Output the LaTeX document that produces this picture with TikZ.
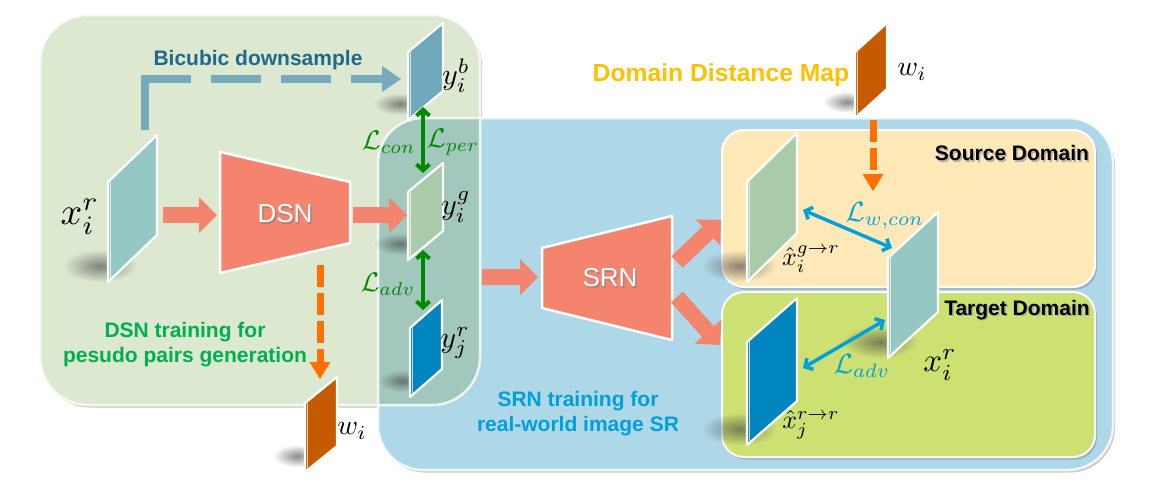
\documentclass[tikz,border=0pt]{standalone}
\usepackage{fontspec}
\setsansfont{Liberation Sans}
\usetikzlibrary{arrows.meta,shadows,fadings,calc}

\definecolor{dsnbg}{HTML}{DCE8CF}
\definecolor{srnbg}{HTML}{AED8E8}
\definecolor{overlapbg}{HTML}{A2C8BE}
\definecolor{srcbg}{HTML}{FFE9B8}
\definecolor{tgtbg}{HTML}{CDE072}
\definecolor{blocksalmon}{HTML}{F5846E}
\definecolor{tealmap}{HTML}{96C8C3}
\definecolor{bluemap}{HTML}{6FA8BB}
\definecolor{greenmap}{HTML}{AACBAA}
\definecolor{deepblue}{HTML}{0085BE}
\definecolor{rust}{HTML}{C55A00}
\definecolor{bicubicline}{HTML}{78AABE}
\definecolor{bicubictext}{HTML}{1F6A8A}
\definecolor{lossgreen}{HTML}{008A00}
\definecolor{lossblue}{HTML}{00A0DC}
\definecolor{dashorange}{HTML}{FF7000}
\definecolor{mapyellow}{HTML}{FFC000}
\definecolor{dsngreen}{HTML}{00B050}

% soft spot used for the shadows under the feature maps
\tikzfading[name=softspot, inner color=transparent!0, outer color=transparent!100]

\tikzset{
  panelborder/.style={draw=white, line width=2.5pt},
  panelshadow/.style={drop shadow={shadow xshift=2pt, shadow yshift=-2.5pt, opacity=0.35, fill=black!60}},
  mapedge/.style={draw=white, line width=2.2pt, line join=round},
  netbox/.style={fill=blocksalmon, draw=white, line width=2.5pt, line join=round},
  blockarr/.style={line width=16pt, draw=blocksalmon, -{Triangle[length=18pt,width=36pt,line width=0pt]}},
  dasharr/.style={draw=dashorange, line width=7pt, dash pattern=on 22pt off 6pt, -{Triangle[length=17pt,width=21pt,line width=0pt]}},
  greenloss/.style={draw=lossgreen, line width=4pt, {Straight Barb[length=6pt,width=13pt]}-{Straight Barb[length=6pt,width=13pt]}},
  blueloss/.style={draw=lossblue, line width=3.5pt, {Straight Barb[length=6pt,width=13pt]}-{Straight Barb[length=6pt,width=13pt]}},
  boldlabel/.style={font=\sffamily\bfseries\fontsize{21}{25}\selectfont, align=center, inner sep=0pt},
  mathlabel/.style={inner sep=0pt},
}

% feature map: name, left x, top-left y, width, shear, height, colour
\newcommand\featmap[7]{%
  \fill[black!75, opacity=0.6, path fading=softspot]
    ({#2-8},{#3+#6-16}) ellipse ({0.75*#4} and {0.16*#6});
  \draw[mapedge, fill=#7] (#2,#3) -- ++(#4,-#5) -- ++(0,#6) -- ++(-#4,#5) -- cycle;
  \draw[#7!30!white, line width=1.2pt] ({#2+2.8},{#3-2}) -- ++(0,{#6-1});
  \coordinate (#1) at ({#2+#4/2},{#3+(#6-#5)/2});
}

\begin{document}
\begin{tikzpicture}[x=1pt,y=-1pt]
\useasboundingbox[fill=white] (0,0) rectangle (1149,491);

% ---- training panels ----
\fill[dsnbg, panelshadow, rounded corners=48] (40,15) rectangle (480,405);
\fill[srnbg, panelshadow, rounded corners=45] (378,118) rectangle (1113,470);
\begin{scope}
  \clip[rounded corners=45] (378,118) rectangle (1113,470);
  \fill[overlapbg, rounded corners=48] (40,15) rectangle (480,405);
\end{scope}
\draw[panelborder, rounded corners=45, opacity=0.8] (378,118) rectangle (1113,470);
\draw[panelborder, rounded corners=48, opacity=0.8] (40,15) rectangle (480,405);

% ---- domain boxes ----
\fill[srcbg, panelshadow, rounded corners=22] (722,130) rectangle (1095,287);
\draw[panelborder, line width=2pt, rounded corners=22] (722,130) rectangle (1095,287);
\fill[tgtbg, panelshadow, rounded corners=22] (722,292) rectangle (1095,457);
\draw[panelborder, line width=2pt, rounded corners=22] (722,292) rectangle (1095,457);

% ---- networks ----
\draw[netbox] (220,152) -- (350,182) -- (350,243) -- (220,273) -- cycle;
\node[text=black!50, opacity=0.6, font=\sffamily\fontsize{26}{26}\selectfont] at (286.5,215.5) {DSN};
\node[text=white, font=\sffamily\fontsize{26}{26}\selectfont] (dsn) at (285,214) {DSN};
\draw[netbox] (542,248) -- (672,216) -- (672,340) -- (542,308) -- cycle;
\node[text=black!50, opacity=0.6, font=\sffamily\fontsize{26}{26}\selectfont] at (611.5,279.5) {SRN};
\node[text=white, font=\sffamily\fontsize{26}{26}\selectfont] (srn) at (610,278) {SRN};

% ---- feature maps ----
\featmap{xr}{108}{182}{49}{47}{100}{tealmap}
\featmap{yib}{408}{52}{35}{29}{68}{bluemap}
\featmap{yig}{408}{192}{35}{29}{68}{greenmap}
\featmap{yjr}{410}{328}{32}{28}{69}{deepblue}
\featmap{wlow}{305}{403}{32}{26}{69}{rust}
\featmap{wtop}{855}{52}{32}{29}{66}{rust}
\featmap{xgr}{747}{182}{50}{49}{100}{greenmap}
\featmap{xrr}{747}{342}{50}{44}{103}{deepblue}
\featmap{xr2}{888}{258}{50}{46}{100}{tealmap}

% ---- connector end points ----
\coordinate (xr-out) at (163,215);
\coordinate (dsn-in) at (217,215);
\coordinate (dsn-out) at (353,215);
\coordinate (yig-in) at (407,215);
\coordinate (y-out) at (482,277);
\coordinate (srn-in) at (538,277);
\coordinate (srn-up) at (677,262);
\coordinate (src-in) at (721,220);
\coordinate (srn-down) at (677,297);
\coordinate (tgt-in) at (720,345);
\coordinate (xr-top) at (145,130);
\coordinate (yib-in) at (401,79);
\coordinate (yib-bot) at (423,107);
\coordinate (yig-top) at (423,173);
\coordinate (yig-bot) at (423,250);
\coordinate (yjr-top) at (423,310);
\coordinate (dsn-below) at (320,265);
\coordinate (wlow-top) at (320,379);
\coordinate (wtop-bot) at (873,120);
\coordinate (loss-w) at (873,191);
\coordinate (xgr-r) at (803,210);
\coordinate (xr2-l) at (892,248);
\coordinate (xrr-r) at (803,368);
\coordinate (xr2-lb) at (885,320);

% ---- block arrows ----
\draw[blockarr] (xr-out) -- (dsn-in);
\draw[blockarr] (dsn-out) -- (yig-in);
\draw[blockarr] (y-out) -- (srn-in);
\draw[blockarr] (srn-up) -- (src-in);
\draw[blockarr] (srn-down) -- (tgt-in);

% ---- bicubic path ----
\draw[bicubicline, line width=8pt,
      dash pattern=on 97pt off 20pt on 50pt off 20pt on 50pt off 20pt on 50pt off 20pt,
      -{Triangle[length=19pt,width=26pt,line width=0pt]}]
  (xr-top) |- (yib-in);

% ---- distance map arrows ----
\draw[dasharr] (dsn-below) -- (wlow-top);
\draw[dasharr] (wtop-bot) -- (loss-w);

% ---- losses ----
\draw[greenloss] (yib-bot) -- (yig-top);
\draw[greenloss] (yig-bot) -- (yjr-top);
\draw[blueloss] (xgr-r) -- (xr2-l);
\draw[blueloss] (xrr-r) -- (xr2-lb);

\node[mathlabel, text=lossgreen, scale=2.7] (lcon) at (389,142) {$\mathcal{L}_{con}$};
\node[mathlabel, text=lossgreen, scale=2.7] (lper) at (453,142) {$\mathcal{L}_{per}$};
\node[mathlabel, text=lossgreen, scale=2.7] (ladv1) at (388,284) {$\mathcal{L}_{adv}$};
\node[mathlabel, text=lossblue, scale=2.8] (lwcon) at (885,216) {$\mathcal{L}_{w,con}$};
\node[mathlabel, text=lossblue, scale=2.8] (ladv2) at (862,366) {$\mathcal{L}_{adv}$};

% ---- map labels ----
\node[mathlabel, scale=3.8] (lxr) at (80,217) {$x_i^r$};
\node[mathlabel, scale=3.0] (lyib) at (456,76) {$y_i^b$};
\node[mathlabel, scale=3.0] (lyig) at (456,207) {$y_i^g$};
\node[mathlabel, scale=3.0] (lyjr) at (455,343) {$y_j^r$};
\node[mathlabel, scale=2.8] (lwlow) at (352,431) {$w_i$};
\node[mathlabel, scale=2.8] (lwtop) at (912,72) {$w_i$};
\node[mathlabel, scale=2.6] (lxgr) at (811,259) {$\hat{x}_i^{g\rightarrow r}$};
\node[mathlabel, scale=2.6] (lxrr) at (811,425) {$\hat{x}_j^{r\rightarrow r}$};
\node[mathlabel, scale=3.3] (lxr2) at (940,365) {$x_i^r$};

% ---- captions ----
\node[boldlabel, text=bicubictext] (tbic) at (258,60) {Bicubic downsample};
\node[boldlabel, text=mapyellow, font=\sffamily\bfseries\fontsize{24.7}{26}\selectfont] (tmap) at (721,75) {Domain Distance Map};
\node[boldlabel, text=black!40, opacity=0.7] at (1013.5,154.5) {Source Domain};
\node[boldlabel] (tsrc) at (1012,153) {Source Domain};
\node[boldlabel, text=black!40, opacity=0.7] at (1018.5,311.5) {Target Domain};
\node[boldlabel] (ttgt) at (1017,310) {Target Domain};
\node[boldlabel, text=dsngreen] (tdsn) at (185,345) {DSN training for\\pesudo pairs generation};
\node[boldlabel, text=lossblue] (tsrn) at (578,414) {SRN training for\\real-world image SR};
\end{tikzpicture}
\end{document}
